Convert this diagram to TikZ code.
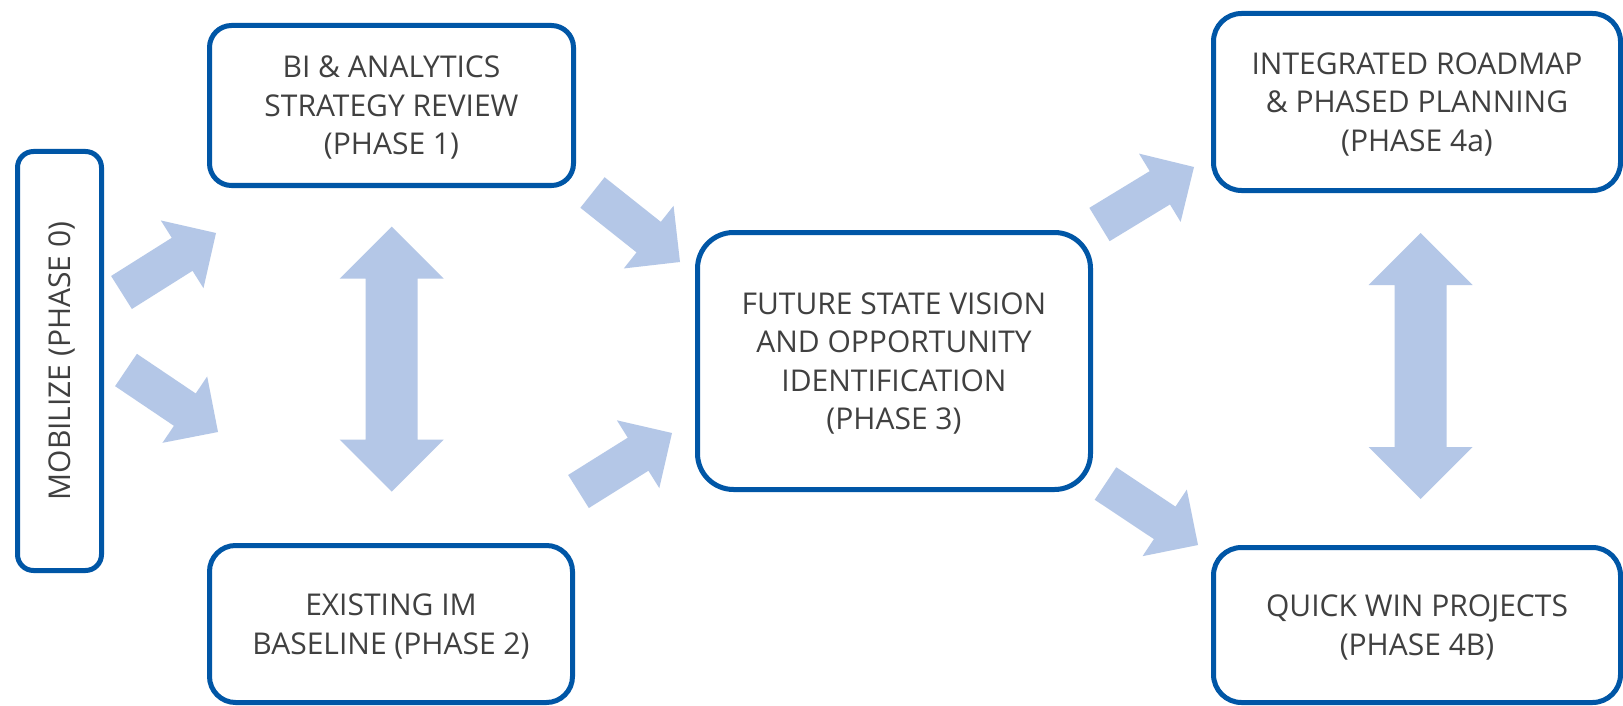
\documentclass[tikz,border=0pt]{standalone}
\usepackage{fontspec}
\setmainfont{Open Sans}
\usetikzlibrary{calc}
\definecolor{boxblue}{HTML}{0056A6}
\definecolor{arrowfill}{HTML}{B4C7E7}
\definecolor{txtgray}{HTML}{404040}
\tikzset{
  phasebox/.style={draw=boxblue, line width=5pt, fill=white, align=center,
    text=txtgray, font=\fontsize{30}{38.5}\selectfont, inner sep=0pt, text depth=0pt},
  flowarrow/.style={fill=arrowfill, draw=none}
}
% single block arrow from tail-mid #1 to tip #2
\newcommand{\blockarrow}[2]{%
  \coordinate (#1-b) at ($(#2)!40pt!(#1)$);
  \fill[flowarrow] ($(#1)!19.5pt!90:(#2)$) -- ($(#1-b)!19.5pt!90:(#2)$) -- ($(#1-b)!40pt!90:(#2)$)
    -- (#2) -- ($(#1-b)!40pt!-90:(#2)$) -- ($(#1-b)!19.5pt!-90:(#2)$) -- ($(#1)!19.5pt!-90:(#2)$) -- cycle;
}
% double block arrow between tips #1 and #2
\newcommand{\doublearrow}[2]{%
  \coordinate (#1-b) at ($(#1)!52pt!(#2)$);
  \coordinate (#2-b) at ($(#2)!52pt!(#1)$);
  \fill[flowarrow] (#1) -- ($(#1-b)!52pt!90:(#2)$) -- ($(#1-b)!26pt!90:(#2)$)
    -- ($(#2-b)!26pt!-90:(#1)$) -- ($(#2-b)!52pt!-90:(#1)$) -- (#2)
    -- ($(#2-b)!52pt!90:(#1)$) -- ($(#2-b)!26pt!90:(#1)$)
    -- ($(#1-b)!26pt!-90:(#2)$) -- ($(#1-b)!52pt!-90:(#2)$) -- cycle;
}
\begin{document}
\begin{tikzpicture}[x=1pt,y=-1pt]
\useasboundingbox[fill=white] (0,0) rectangle (1623,706);

% boxes
\node[phasebox, rounded corners=16pt, rotate=90, minimum width=419pt, minimum height=84pt] (p0) at (59.5,361) {MOBILIZE (PHASE 0)};
\node[phasebox, rounded corners=22pt, minimum width=364pt, minimum height=160pt] (p1) at (391.5,105.5) {BI \& ANALYTICS\\STRATEGY REVIEW\\(PHASE 1)};
\node[phasebox, rounded corners=26pt, minimum width=363pt, minimum height=157pt] (p2) at (391,624) {EXISTING IM\\BASELINE (PHASE 2)};
\node[phasebox, rounded corners=36pt, minimum width=393pt, minimum height=257pt] (p3) at (894,361) {FUTURE STATE VISION\\AND OPPORTUNITY\\IDENTIFICATION\\(PHASE 3)};
\node[phasebox, rounded corners=28pt, minimum width=407pt, minimum height=177pt] (p4a) at (1417,102) {INTEGRATED ROADMAP\\\& PHASED PLANNING\\(PHASE 4a)};
\node[phasebox, rounded corners=28pt, minimum width=407pt, minimum height=155pt] (p4b) at (1417,625) {QUICK WIN PROJECTS\\(PHASE 4B)};

% arrow end points
\coordinate (aT) at (121.5,292.5); \coordinate (aP) at (216,233);
\coordinate (bT) at (126,370);     \coordinate (bP) at (218,432);
\coordinate (cT) at (592.5,192.5); \coordinate (cP) at (680,262);
\coordinate (dT) at (578.5,491.5); \coordinate (dP) at (672,433);
\coordinate (eT) at (1099.5,224.5);\coordinate (eP) at (1194,167);
\coordinate (fT) at (1105.5,483.5);\coordinate (fP) at (1198,545);
\coordinate (u1) at (391.7,226.7); \coordinate (l1) at (391.7,491.7);
\coordinate (u2) at (1420.5,233);  \coordinate (l2) at (1420.5,499);

\blockarrow{aT}{aP}
\blockarrow{bT}{bP}
\blockarrow{cT}{cP}
\blockarrow{dT}{dP}
\blockarrow{eT}{eP}
\blockarrow{fT}{fP}
\doublearrow{u1}{l1}
\doublearrow{u2}{l2}
\end{tikzpicture}
\end{document}
